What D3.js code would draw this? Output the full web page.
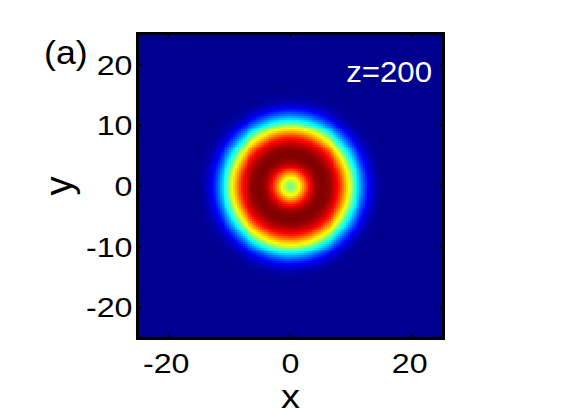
<!DOCTYPE html>
<html><head><meta charset="utf-8">
<script src="https://cdn.jsdelivr.net/npm/d3@7"></script>
<style>body{margin:0;background:#fff}svg{display:block}text{font-family:"Liberation Sans",Arial,sans-serif}</style>
</head><body>
<svg id="c" width="561" height="420"></svg>
<script>
// Radial intensity profile (normalised, jet colour index 0..1)
const radii =      [0, 0.5, 1, 1.5, 2, 2.5, 3, 3.5, 4, 4.5, 5, 5.5, 6, 6.5, 7, 7.5, 8, 8.5, 9, 9.5, 10, 10.5, 11, 11.5, 12, 12.5, 13, 13.5, 14, 14.5, 15, 16, 40];
const intensity =  [0.47, 0.49, 0.55, 0.62, 0.70, 0.78, 0.86, 0.92, 0.96, 0.985, 1.0, 1.0, 0.99, 0.97, 0.94, 0.90, 0.85, 0.78, 0.70, 0.63, 0.54, 0.44, 0.35, 0.27, 0.20, 0.14, 0.09, 0.055, 0.03, 0.015, 0.005, 0, 0];
const xDomain = [-25.13, 25.13];
const yDomain = [-25.13, 25.13];
const xTicks = [-20, 0, 20];
const yTicks = [-20, -10, 0, 10, 20];
const panelLabel = "(a)";
const zLabel = "z=200";
const gridN = 160;

const svg = d3.select("#c");
const L = 137.5, T = 33.5, W = 306, H = 305;
const x = d3.scaleLinear().domain(xDomain).range([L, L + W]);
const y = d3.scaleLinear().domain(yDomain).range([T + H, T]);
const prof = d3.scaleLinear().domain(radii).range(intensity).clamp(true);

// MATLAB jet (64 levels, interpolated)
function jet(t) {
  const i = 1 + Math.max(0, Math.min(1, t)) * 63;
  const u = j => j < 1 ? 0 : j <= 16 ? j / 16 : j <= 31 ? 1 : j <= 47 ? (48 - j) / 16 : 0;
  const uf = j => { const a = Math.floor(j), f = j - a; return u(a) * (1 - f) + u(a + 1) * f; };
  const r = uf(i - 24), g = uf(i - 8), b = uf(i + 8);
  return `rgb(${Math.round(r*255)},${Math.round(g*255)},${Math.round(b*255)})`;
}
const color = d3.scaleSequential(jet).domain([0, 1]);

const step = (xDomain[1] - xDomain[0]) / gridN;
const cells = [];
for (let i = 0; i < gridN; i++) for (let j = 0; j < gridN; j++) {
  const cx = xDomain[0] + (i + 0.5) * step, cy = yDomain[0] + (j + 0.5) * step;
  cells.push({x0: xDomain[0] + i * step, y1: yDomain[0] + (j + 1) * step, v: prof(Math.hypot(cx, cy))});
}
svg.append("g").selectAll("rect").data(cells).join("rect")
  .attr("x", d => x(d.x0)).attr("y", d => y(d.y1))
  .attr("width", x(step) - x(0) + 0.6).attr("height", y(0) - y(step) + 0.6)
  .attr("fill", d => color(d.v)).attr("shape-rendering", "crispEdges");

// ticks (inward, all sides)
const tk = 4;
const g = svg.append("g").attr("stroke", "#000").attr("stroke-width", 1.5);
xTicks.forEach(v => {
  g.append("line").attr("x1", x(v)).attr("x2", x(v)).attr("y1", T + H).attr("y2", T + H - tk);
  g.append("line").attr("x1", x(v)).attr("x2", x(v)).attr("y1", T).attr("y2", T + tk);
});
yTicks.forEach(v => {
  g.append("line").attr("y1", y(v)).attr("y2", y(v)).attr("x1", L).attr("x2", L + tk);
  g.append("line").attr("y1", y(v)).attr("y2", y(v)).attr("x1", L + W).attr("x2", L + W - tk);
});
svg.append("rect").attr("x", L).attr("y", T).attr("width", W).attr("height", H)
  .attr("fill", "none").attr("stroke", "#000").attr("stroke-width", 3);

// tick labels (slightly widened to match the original's broad Helvetica)
const fs = 28, sx = 1.15;
const fmt = d => d < 0 ? "-" + Math.abs(d) : String(d);
svg.append("g").selectAll("text").data(xTicks).join("text")
  .attr("transform", d => `translate(${x(d) - (d === 0 ? 0 : 2.5)},${T + H + 34}) scale(${sx},1)`)
  .attr("text-anchor", "middle").attr("font-size", fs).text(fmt);
svg.append("g").selectAll("text").data(yTicks).join("text")
  .attr("transform", d => `translate(${L - 5},${y(d)}) scale(${sx},1)`)
  .attr("dy", "0.36em").attr("text-anchor", "end")
  .attr("font-size", fs).text(fmt);

// axis labels
svg.append("text").attr("transform", `translate(${x(0)},408) scale(1.15,1)`).attr("text-anchor", "middle").attr("font-size", 33).text("x");
svg.append("text").attr("transform", `translate(72,${y(0)}) rotate(-90)`).attr("text-anchor", "middle").attr("font-size", 38).text("y");
svg.append("text").attr("transform", "translate(44,64) scale(1.05,1)").attr("font-size", 34).text(panelLabel);
svg.append("text").attr("transform", "translate(432,82) scale(1.04,1)").attr("text-anchor", "end").attr("font-size", 30).attr("fill", "#fff").text(zLabel);
</script>
</body></html>
